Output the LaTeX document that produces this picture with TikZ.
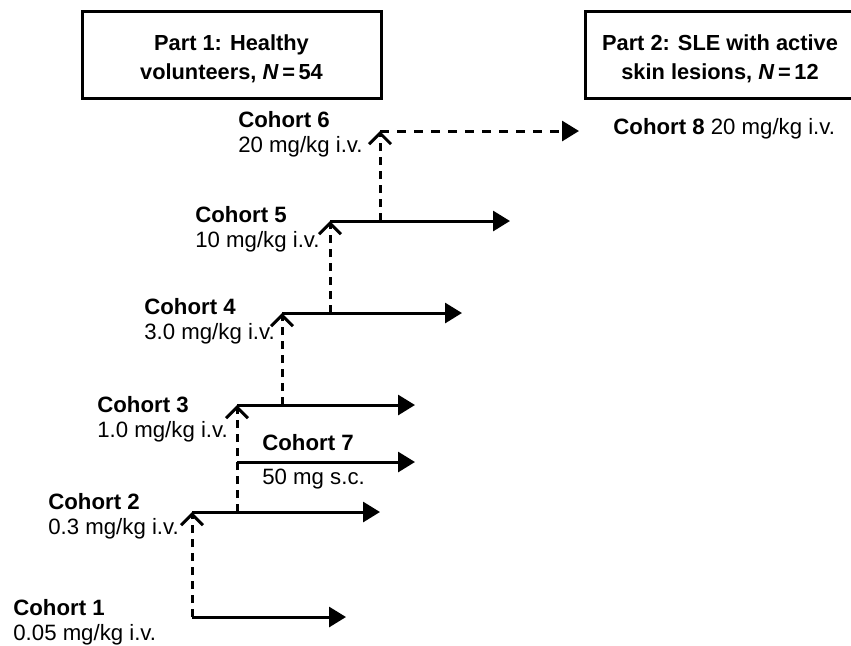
\documentclass[tikz,border=0pt]{standalone}
\usepackage{fontspec}
\setmainfont{Liberation Sans}
\usetikzlibrary{arrows.meta}

\begin{document}
\begin{tikzpicture}[x=0.5pt, y=-0.5pt,
    font=\fontsize{11.1}{12.3}\selectfont,
    flow/.style={line width=1.5pt, -{Triangle[length=8.5pt, width=10pt]}},
    rise/.style={line width=1.5pt, dash pattern=on 4pt off 3pt, -{Straight Barb[length=5.5pt, width=11pt]}},
    cohort/.style={anchor=base west, inner sep=0pt, align=left},
    partbox/.style={draw, line width=1.5pt, align=center, font=\fontsize{10.9}{14.5}\selectfont\bfseries,
      minimum width=149.5pt, minimum height=43.5pt}]
      \useasboundingbox (0,0) rectangle (851,645);

      \node[partbox] (part1) at (231.5,54.5) {\rule{0pt}{12pt}Part 1: Healthy\\volunteers, \textit{N}\,=\,54};
      \begin{scope}
        \clip (0,0) rectangle (851,645);
        \node[partbox, minimum width=134.5pt] (part2) at (720,54.5) {\rule{0pt}{12pt}Part 2: SLE with active\\skin lesions, \textit{N}\,=\,12};
      \end{scope}

      \coordinate (s1) at (192,617);  \coordinate (e1) at (346,617);
      \coordinate (s2) at (192,512);  \coordinate (e2) at (380,512);
      \coordinate (s3) at (237,405);  \coordinate (e3) at (415,405);
      \coordinate (s7) at (237,462);  \coordinate (e7) at (415,462);
      \coordinate (s4) at (282,313);  \coordinate (e4) at (462,313);
      \coordinate (s5) at (330,221);  \coordinate (e5) at (510,221);
      \coordinate (s6) at (380,131);  \coordinate (e6) at (579,131);

      \node[cohort] (c1) at (13,640) {\textbf{Cohort 1}\\0.05 mg/kg i.v.};
      \node[cohort] (c2) at (48,534) {\textbf{Cohort 2}\\0.3 mg/kg i.v.};
      \node[cohort] (c3) at (97,437) {\textbf{Cohort 3}\\1.0 mg/kg i.v.};
      \node[cohort] (c4) at (144,339) {\textbf{Cohort 4}\\3.0 mg/kg i.v.};
      \node[cohort] (c5) at (195,247) {\textbf{Cohort 5}\\10 mg/kg i.v.};
      \node[cohort] (c6) at (238,152) {\textbf{Cohort 6}\\20 mg/kg i.v.};
      \node[cohort] (c7) at (262,450) {\textbf{Cohort 7}};
      \node[cohort] (d7) at (262,484) {50 mg s.c.};
      \node[cohort] (c8) at (613,134) {\textbf{Cohort 8} 20 mg/kg i.v.};

      \draw[flow] (s1) -- (e1);
      \draw[flow] (s2) -- (e2);
      \draw[flow] (s3) -- (e3);
      \draw[flow] (s7) -- (e7);
      \draw[flow] (s4) -- (e4);
      \draw[flow] (s5) -- (e5);
      \draw[flow, dash pattern=on 4.5pt off 4pt] (s6) -- (e6);

      \draw[rise] (s1) -- (s2);
      \draw[rise] (s3 |- s2) -- (s3);
      \draw[rise] (s4 |- s3) -- (s4);
      \draw[rise] (s5 |- s4) -- (s5);
      \draw[rise] (s6 |- s5) -- (s6);

    \end{tikzpicture}
\end{document}
